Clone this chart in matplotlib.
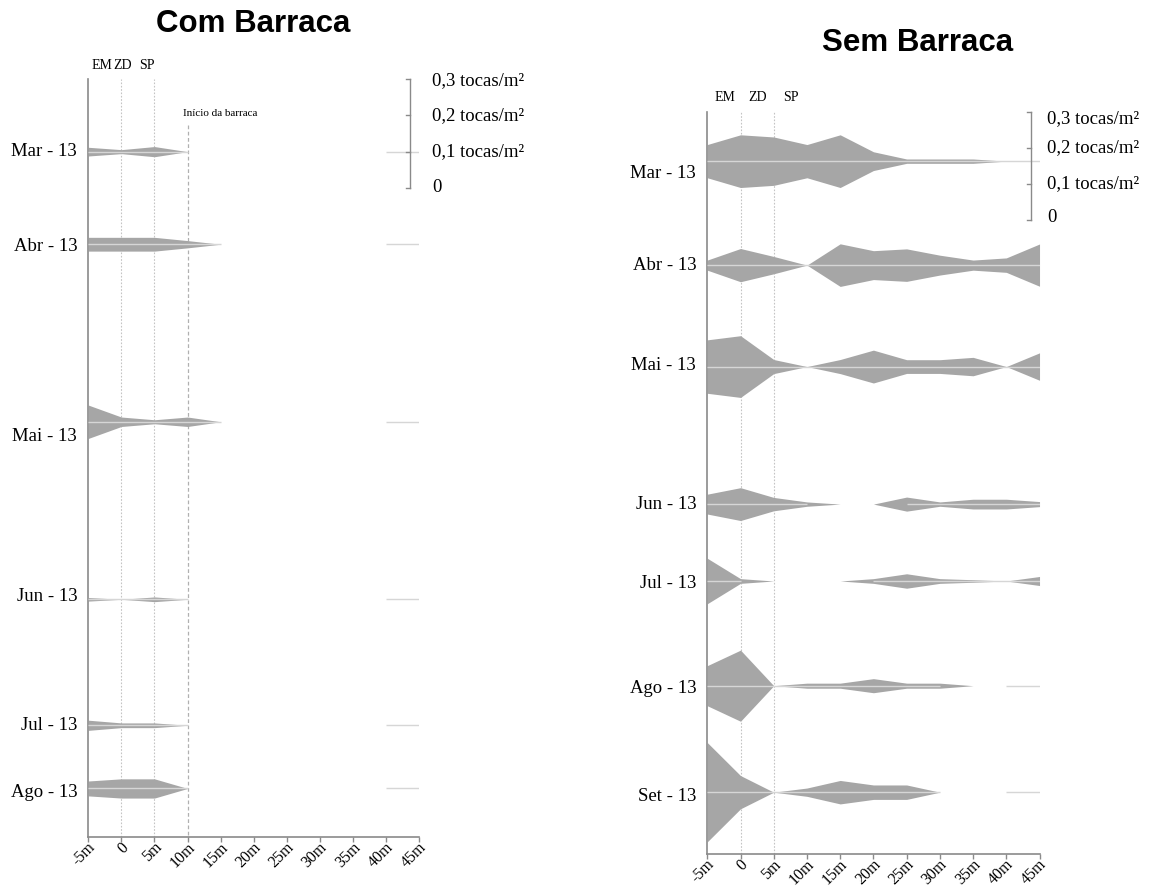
import numpy as np
import matplotlib
matplotlib.use("Agg")
import matplotlib.pyplot as plt
import matplotlib.transforms as mtransforms

plt.rcParams["font.family"] = ["Liberation Serif", "DejaVu Serif"]

nan = np.nan

# distance from the reference point (m)
dist = [-5, 0, 5, 10, 15, 20, 25, 30, 35, 40, 45]
dist_labels = ["-5m", "0", "5m", "10m", "15m", "20m", "25m", "30m", "35m", "40m", "45m"]

# burrow density (tocas/m²) along the transect, with tent
months_com = ["Mar - 13", "Abr - 13", "Mai - 13", "Jun - 13", "Jul - 13", "Ago - 13"]
com_mar = [0.024, 0.011, 0.028, 0.0, nan, nan, nan, nan, nan, 0.0, 0.0]
com_abr = [0.038, 0.038, 0.038, 0.020, 0.0, nan, nan, nan, nan, 0.0, 0.0]
com_mai = [0.092, 0.026, 0.011, 0.026, 0.0, nan, nan, nan, nan, 0.0, 0.0]
com_jun = [0.010, 0.0, 0.013, 0.0, nan, nan, nan, nan, nan, 0.0, 0.0]
com_jul = [0.028, 0.013, 0.013, 0.0, nan, nan, nan, nan, nan, 0.0, 0.0]
com_ago = [0.041, 0.053, 0.053, 0.0, nan, nan, nan, nan, nan, 0.0, 0.0]

# burrow density (tocas/m²) along the transect, without tent
months_sem = ["Mar - 13", "Abr - 13", "Mai - 13", "Jun - 13", "Jul - 13", "Ago - 13", "Set - 13"]
sem_mar = [0.092, 0.146, 0.134, 0.092, 0.146, 0.052, 0.012, 0.012, 0.012, 0.0, 0.0]
sem_abr = [0.028, 0.092, 0.048, 0.0, 0.118, 0.080, 0.090, 0.055, 0.028, 0.040, 0.117]
sem_mai = [0.148, 0.171, 0.039, 0.0, 0.039, 0.091, 0.038, 0.038, 0.051, 0.0, 0.076]
sem_jun = [0.055, 0.091, 0.037, 0.012, nan, nan, 0.039, 0.012, 0.027, 0.027, 0.014]
sem_jul = [0.126, 0.013, nan, nan, nan, 0.013, 0.040, 0.013, 0.007, 0.0, 0.025]
sem_ago = [0.111, 0.197, 0.0, 0.014, 0.014, 0.039, 0.014, 0.014, nan, 0.0, 0.0]
sem_set = [0.275, 0.092, 0.0, 0.023, 0.065, 0.040, 0.040, 0.0, nan, 0.0, 0.0]

zone_names = ["EM", "ZD", "SP"]
scale_values = [0.3, 0.2, 0.1, 0.0]
scale_labels = ["0,3 tocas/m²", "0,2 tocas/m²", "0,1 tocas/m²", "0"]

FILL = "#a6a6a6"
MID = "#d6d6d6"
AXIS = "#8a8a8a"


def draw_panel(ax, months, series, rows, label_rows, ybottom, zone_x, zone_y,
               bar_x, label_x, label_dy):
    ax.set_xlim(-5, 45)
    ax.set_ylim(ybottom, 0)

    # guide lines at the zone limits
    for gx in (0, 5):
        ax.axvline(gx, color="#c4c4c4", lw=0.8, ls=(0, (1.5, 1.5)), zorder=1)

    for row, vals in zip(rows, series):
        v = np.array(vals, dtype=float)
        w = np.nan_to_num(v) / 2.0
        ax.fill_between(dist, row - w, row + w, color=FILL, lw=0, zorder=2)
        mid = np.where(np.isnan(v), np.nan, row)
        ax.plot(dist, mid, color=MID, lw=1.0, zorder=3, solid_capstyle="butt")

    ax.set_yticks(label_rows)
    ax.set_yticklabels(months, fontsize=13.5)
    ax.tick_params(axis="y", length=0, pad=8)
    ax.set_xticks(dist)
    ax.set_xticklabels(dist_labels, rotation=45, ha="right", va="center",
                       rotation_mode="anchor", fontsize=11.5)
    ax.tick_params(axis="x", length=3.5, width=1, color=AXIS, pad=2.5)
    shift = mtransforms.ScaledTranslation(5 / 100, 0, ax.figure.dpi_scale_trans)
    for lab in ax.get_xticklabels():
        lab.set_transform(lab.get_transform() + shift)

    for s in ("top", "right"):
        ax.spines[s].set_visible(False)
    for s in ("left", "bottom"):
        ax.spines[s].set_color(AXIS)
        ax.spines[s].set_linewidth(1.2)

    for name, zx in zip(zone_names, zone_x):
        ax.text(zx, zone_y, name, ha="center", va="center", fontsize=10,
                clip_on=False)

    # density ruler
    ax.plot([bar_x, bar_x], [0, 0.3], color=AXIS, lw=1.0, zorder=4, clip_on=False)
    for sv, sl, dy in zip(scale_values, scale_labels, label_dy):
        yy = 0.3 - sv
        ax.plot([bar_x - 0.6, bar_x], [yy, yy], color=AXIS, lw=1.0, zorder=4,
                clip_on=False)
        ax.text(label_x, yy + dy, sl, ha="left", va="center", fontsize=13.5,
                clip_on=False)


fig = plt.figure(figsize=(11.54, 8.91), dpi=100)

# left panel: 363 px per density unit
rows_c = np.array([0.200, 0.455, 0.944, 1.433, 1.780, 1.954])
lab_off_c = np.array([-2, 0, 13, -5, -2, 2]) / 363
ax_c = fig.add_axes([0.0765, 0.0609, 0.2868, 0.8504])
draw_panel(ax_c, months_com,
           [com_mar, com_abr, com_mai, com_jun, com_jul, com_ago],
           rows_c, rows_c + lab_off_c, 2.087,
           zone_x=[-3.0, 0.25, 3.9], zone_y=-0.038, bar_x=43.6, label_x=46.9,
           label_dy=[0.005, 0.0, 0.0, 0.0])
ax_c.plot([10, 10], [0.127, 2.087], color="#b0b0b0", lw=0.9, ls=(0, (3, 2)),
          zorder=1)
ax_c.text(9.3, 0.094, "Início da barraca", ha="left", va="center", fontsize=8)

# right panel: axis from y=111.7 px to y=854 px, 361 px per density unit
rows_s = np.array([0.137, 0.425, 0.706, 1.087, 1.300, 1.590, 1.885])
lab_off_s = np.array([10, -2, -3, -2, 0, 1, 2]) / 361
ax_s = fig.add_axes([0.6129, 1 - 854 / 891, 0.2879, (854 - 111.7) / 891])
draw_panel(ax_s, months_sem,
           [sem_mar, sem_abr, sem_mai, sem_jun, sem_jul, sem_ago, sem_set],
           rows_s, rows_s + lab_off_s, (854 - 111.7) / 361,
           zone_x=[-2.4, 2.5, 7.6], zone_y=-0.040, bar_x=43.7, label_x=46.1,
           label_dy=[0.018, 0.0, 0.0, -0.008])

fig.text(253 / 1154, 1 - 24 / 891, "Com Barraca", ha="center", va="center",
         fontsize=22.5, fontweight="bold", family="Liberation Sans")
fig.text(918 / 1154, 1 - 43 / 891, "Sem Barraca", ha="center", va="center",
         fontsize=22.5, fontweight="bold", family="Liberation Sans")

fig.savefig("out.png", dpi=100, facecolor="white")
